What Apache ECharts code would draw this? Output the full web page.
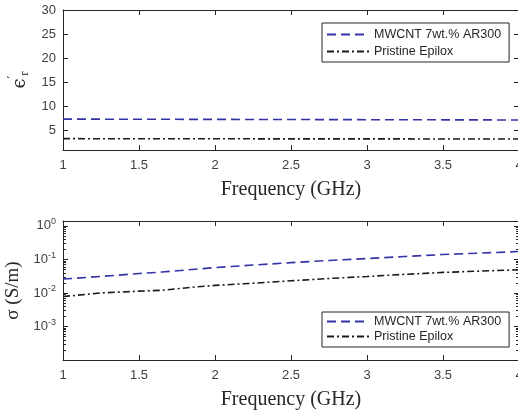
<!DOCTYPE html>
<html>
<head>
<meta charset="utf-8">
<script src="https://cdn.jsdelivr.net/npm/echarts@6/dist/echarts.min.js"></script>
<style>html,body{margin:0;padding:0;background:#fff}#c{width:518px;height:414px}</style>
</head>
<body>
<div id="c"></div>
<script>
// ---- data ----
var seriesNames = ['MWCNT 7wt.% AR300', 'Pristine Epilox'];
var freqTop = [1, 1.5, 2, 2.5, 3, 3.5, 4];
var permMWCNT = [7.4, 7.37, 7.34, 7.31, 7.28, 7.25, 7.22];
var permEpilox = [3.35, 3.33, 3.32, 3.31, 3.3, 3.29, 3.28];
var freqBot = [1, 1.25, 1.5, 1.65, 1.85, 2, 2.25, 2.5, 2.75, 3, 3.25, 3.5, 3.75, 4];
var condMWCNT = [0.026, 0.031, 0.038, 0.042, 0.050, 0.057, 0.068, 0.080, 0.093, 0.106, 0.122, 0.140, 0.155, 0.172];
var condEpilox = [0.0078, 0.0100, 0.0113, 0.0120, 0.0148, 0.0168, 0.0195, 0.023, 0.027, 0.031, 0.036, 0.041, 0.045, 0.049];
var xTicks = [1, 1.5, 2, 2.5, 3, 3.5, 4];
var permTicks = [5, 10, 15, 20, 25, 30];
var condTicks = [0.001, 0.01, 0.1, 1];
var condMinor = [];
[0.0001, 0.001, 0.01, 0.1, 1].forEach(function (d) {
  for (var k = 2; k <= 9; k++) { var v = d * k; if (v <= 1.4) condMinor.push(v); }
});

function pairs(xs, ys) { return xs.map(function (x, i) { return [x, ys[i]]; }); }

var axisCol = '#262626';
var labCol = '#404040';
var blue = '#3333a6';
var black = '#1a1a1a';
var dashBlue = [9, 5];
var dashDot = [7, 3, 2, 3];

function xAx(gi, bottom) {
  return {
    type: 'value', gridIndex: gi, position: bottom ? 'bottom' : 'top',
    min: 1, max: 4, interval: 0.5,
    axisLine: { show: true, onZero: false, lineStyle: { color: axisCol, width: 1 } },
    axisTick: { show: true, inside: true, length: 5, customValues: xTicks, lineStyle: { color: axisCol } },
    axisLabel: bottom ? { show: true, customValues: xTicks, color: labCol, fontFamily: 'Liberation Sans', fontSize: 13, margin: 9,
      formatter: function (v) { return String(v); } } : { show: false },
    splitLine: { show: false },
    name: bottom ? 'Frequency (GHz)' : '',
    nameLocation: 'middle', nameGap: 30,
    nameTextStyle: { fontFamily: 'Liberation Serif', fontSize: 20, color: '#262626' }
  };
}

var legendBase = {
  orient: 'vertical', left: 322, data: seriesNames, itemWidth: 42, itemHeight: 14,
  borderColor: '#262626', borderWidth: 1, backgroundColor: '#fff',
  itemStyle: { color: 'transparent', borderColor: 'transparent', borderWidth: 0, opacity: 0 },
  textStyle: { fontFamily: 'Liberation Sans', fontSize: 12.5, color: '#262626' },
  selectedMode: false
};

var option = {
  animation: false,
  backgroundColor: '#fff',
  grid: [
    { left: 63, top: 10, width: 456, height: 140, outerBoundsMode: 'none', containLabel: false },
    { left: 63, top: 221, width: 456, height: 139, outerBoundsMode: 'none', containLabel: false }
  ],
  xAxis: [xAx(0, true), xAx(0, false), xAx(1, true), xAx(1, false)],
  yAxis: [
    { type: 'value', gridIndex: 0, position: 'left', min: 1, max: 30,
      axisLine: { show: true, lineStyle: { color: axisCol } },
      axisTick: { show: true, inside: true, length: 5, customValues: permTicks, lineStyle: { color: axisCol } },
      axisLabel: { show: true, customValues: permTicks, color: labCol, fontFamily: 'Liberation Sans', fontSize: 13, margin: 7 },
      splitLine: { show: false },
      name: '{e|\u03f5}{p|\u2032}{s|r}', nameLocation: 'middle', nameRotate: 90, nameGap: 27,
      nameTextStyle: { color: '#262626', rich: {
        e: { fontFamily: 'DejaVu Serif', fontSize: 18, color: '#262626' },
        p: { fontFamily: 'DejaVu Serif', fontSize: 12, color: '#262626', padding: [0, 0, 12, 0] },
        s: { fontFamily: 'Liberation Serif', fontSize: 13, color: '#262626', padding: [8, 0, 0, 0] }
      } }
    },
    { type: 'value', gridIndex: 0, position: 'right', min: 1, max: 30,
      axisLine: { show: true, lineStyle: { color: axisCol } },
      axisTick: { show: true, inside: true, length: 5, customValues: permTicks, lineStyle: { color: axisCol } },
      axisLabel: { show: false }, splitLine: { show: false }
    },
    { type: 'log', logBase: 10, gridIndex: 1, position: 'left', min: 0.0001, max: 1.4,
      axisLine: { show: true, lineStyle: { color: axisCol } },
      axisTick: { show: true, inside: true, length: 5, customValues: condTicks, lineStyle: { color: axisCol } },
      axisLabel: { show: true, customValues: condTicks, color: labCol, fontFamily: 'Liberation Sans', fontSize: 13, margin: 7,
        formatter: function (v) { return '10{sup|' + Math.round(Math.log10(v)) + '}'; },
        rich: { sup: { fontFamily: 'Liberation Sans', fontSize: 9, color: labCol, padding: [0, 0, 8, 0] } } },
      splitLine: { show: false },
      name: '\u03c3 (S/m)', nameLocation: 'middle', nameRotate: 90, nameGap: 35,
      nameTextStyle: { fontFamily: 'Liberation Serif', fontSize: 19, color: '#262626' }
    },
    { type: 'log', logBase: 10, gridIndex: 1, position: 'right', min: 0.0001, max: 1.4,
      axisLine: { show: true, lineStyle: { color: axisCol } },
      axisTick: { show: true, inside: true, length: 5, customValues: condTicks, lineStyle: { color: axisCol } },
      axisLabel: { show: false }, splitLine: { show: false }
    },
    { type: 'log', logBase: 10, gridIndex: 1, position: 'left', min: 0.0001, max: 1.4,
      axisLine: { show: false },
      axisTick: { show: true, inside: true, length: 3, customValues: condMinor, lineStyle: { color: axisCol } },
      axisLabel: { show: false }, splitLine: { show: false }
    },
    { type: 'log', logBase: 10, gridIndex: 1, position: 'right', min: 0.0001, max: 1.4,
      axisLine: { show: false },
      axisTick: { show: true, inside: true, length: 3, customValues: condMinor, lineStyle: { color: axisCol } },
      axisLabel: { show: false }, splitLine: { show: false }
    }
  ],
  legend: [
    Object.assign({}, legendBase, { top: 23, itemGap: 4, padding: [5, 8, 4, 4] }),
    Object.assign({}, legendBase, { top: 312, itemGap: 2, padding: [3, 8, 4, 4] })
  ],
  series: [
    { name: seriesNames[0], type: 'line', xAxisIndex: 0, yAxisIndex: 0, data: pairs(freqTop, permMWCNT),
      showSymbol: false, symbol: 'none', lineStyle: { color: blue, width: 1.6, type: dashBlue }, itemStyle: { color: blue } },
    { name: seriesNames[1], type: 'line', xAxisIndex: 0, yAxisIndex: 0, data: pairs(freqTop, permEpilox),
      showSymbol: false, symbol: 'none', lineStyle: { color: black, width: 1.6, type: dashDot }, itemStyle: { color: black } },
    { name: seriesNames[0], type: 'line', xAxisIndex: 2, yAxisIndex: 2, data: pairs(freqBot, condMWCNT),
      showSymbol: false, symbol: 'none', lineStyle: { color: blue, width: 1.6, type: dashBlue }, itemStyle: { color: blue } },
    { name: seriesNames[1], type: 'line', xAxisIndex: 2, yAxisIndex: 2, data: pairs(freqBot, condEpilox),
      showSymbol: false, symbol: 'none', lineStyle: { color: black, width: 1.6, type: dashDot }, itemStyle: { color: black } }
  ]
};
var chart = echarts.init(document.getElementById('c'), null, { renderer: 'canvas' });
chart.setOption(option);
</script>
</body>
</html>
